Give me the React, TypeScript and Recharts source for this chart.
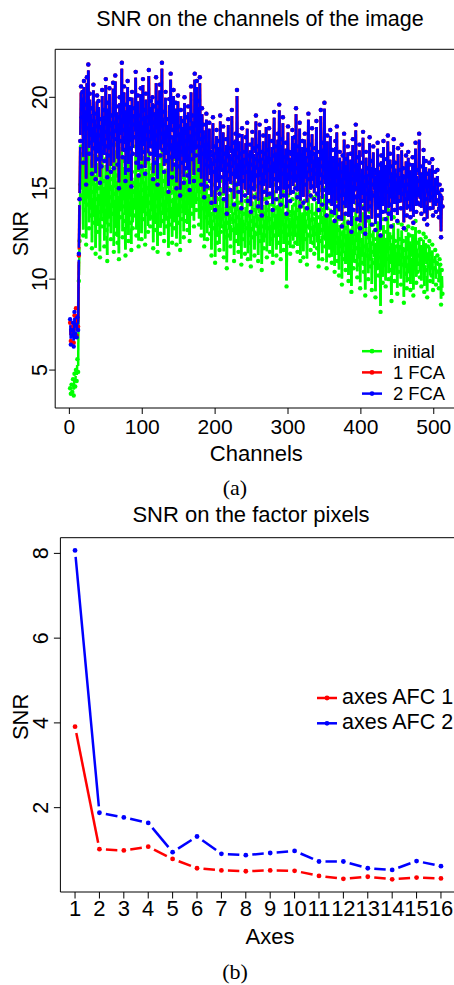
import React from 'react';
import { LineChart, Line, XAxis, YAxis, Legend } from 'recharts';

const FONT = '"Liberation Sans", Arial, sans-serif';
const SERIF = '"Liberation Serif", "Times New Roman", serif';

const GREEN = '#00ff00';
const RED = '#ff0000';
const BLUE = '#0000ff';

// ---------- (a) SNR on the channels ----------
const CHANNELS = Array.from({ length: 512 }, (_, i) => i + 1);
const X_TICKS_TOP = [0, 100, 200, 300, 400, 500];
const Y_TICKS_TOP = [5, 10, 15, 20];

const INITIAL = [
  4.0, 3.7, 4.2, 3.8, 4.5, 3.6, 4.8, 4.1, 5.0, 4.4, 5.6, 4.9, 9.9, 12.1, 15.2, 17.3,
  14.6, 16.8, 12.4, 17.9, 13.8, 15.9, 11.9, 16.4, 14.1, 18.0, 12.8, 15.3, 13.5, 16.9, 11.7, 14.8,
  17.2, 13.1, 15.6, 11.4, 14.4, 16.7, 12.6, 15.0, 13.7, 11.2, 16.1, 12.9, 17.5, 13.3, 15.4, 11.8,
  14.2, 16.6, 12.7, 11.0, 15.8, 13.0, 17.1, 14.5, 12.2, 15.5, 13.6, 16.9, 11.5, 14.7, 17.4, 12.5,
  15.7, 12.0, 14.9, 11.1, 16.3, 13.4, 15.1, 17.6, 12.3, 14.0, 16.5, 13.2, 11.3, 15.6, 14.3, 17.0,
  12.1, 14.6, 16.2, 13.1, 11.6, 15.9, 12.8, 14.8, 15.3, 13.5, 17.3, 12.4, 14.1, 16.0, 11.8, 15.2,
  13.9, 16.8, 12.2, 14.9, 17.1, 13.3, 15.7, 11.9, 16.4, 13.6, 15.0, 12.6, 17.4, 14.2, 12.9, 16.1,
  13.4, 16.3, 11.7, 14.6, 15.8, 12.7, 17.0, 14.0, 11.5, 15.5, 14.4, 16.7, 12.5, 14.1, 17.5, 13.2,
  15.4, 12.1, 14.7, 16.4, 12.9, 15.1, 13.8, 11.4, 16.2, 13.0, 17.2, 14.3, 12.0, 14.8, 16.6, 12.8,
  15.0, 16.1, 11.9, 14.5, 16.8, 13.1, 15.2, 11.6, 15.9, 14.0, 13.3, 15.6, 12.3, 16.5, 14.6, 13.2,
  15.8, 12.7, 16.4, 14.2, 12.1, 15.3, 17.3, 13.6, 16.0, 14.7, 12.9, 17.6, 15.1, 13.8, 17.0, 14.4,
  16.2, 13.0, 17.4, 14.8, 12.4, 15.9, 13.9, 15.4, 11.8, 14.6, 13.4, 15.7, 12.2, 14.3, 13.1, 15.0,
  12.5, 13.9, 11.3, 13.6, 15.2, 12.8, 14.1, 10.9, 13.4, 14.9, 12.0, 14.4, 13.0, 11.6, 15.4, 12.6,
  13.8, 12.9, 14.7, 11.2, 13.5, 12.3, 14.3, 10.6, 13.1, 15.0, 12.4, 13.9, 11.8, 13.3, 15.3, 12.7,
  14.0, 11.0, 13.2, 14.6, 12.1, 15.7, 13.4, 11.5, 14.2, 12.6, 13.7, 10.8, 14.8, 12.2, 13.6, 13.0,
  11.4, 14.3, 12.8, 14.9, 11.1, 13.5, 12.0, 14.1, 10.7, 13.2, 14.6, 12.3, 13.8, 11.3, 13.0, 15.1,
  12.5, 13.9, 11.0, 13.3, 14.8, 12.1, 13.7, 10.5, 12.9, 14.4, 11.7, 13.6, 12.4, 14.9, 11.2, 13.8,
  12.8, 14.5, 11.5, 13.3, 12.2, 14.1, 10.9, 13.5, 15.2, 12.4, 13.9, 11.3, 12.9, 14.4, 12.0, 15.0,
  13.1, 11.1, 14.2, 12.6, 14.8, 11.6, 13.4, 12.3, 14.0, 9.6, 12.9, 14.6, 12.0, 13.7, 11.4, 13.5,
  12.5, 14.4, 11.8, 13.2, 14.1, 12.0, 15.1, 12.9, 11.5, 13.8, 12.6, 14.7, 11.0, 13.4, 12.3, 14.0,
  11.2, 13.1, 14.3, 12.2, 13.6, 10.8, 12.9, 14.8, 12.4, 13.7, 11.6, 12.8, 14.5, 12.0, 13.3, 11.4,
  13.6, 12.5, 14.6, 11.7, 13.0, 10.7, 13.4, 12.1, 14.9, 12.7, 11.1, 13.8, 12.3, 15.0, 11.8, 13.1,
  10.6, 13.9, 11.9, 12.8, 11.3, 14.2, 12.4, 10.9, 13.5, 11.6, 12.9, 10.4, 13.7, 12.0, 14.3, 11.0,
  12.7, 10.2, 13.3, 11.4, 12.5, 9.7, 13.0, 11.1, 14.0, 11.9, 10.5, 12.8, 11.2, 13.6, 9.9, 12.2,
  11.5, 13.1, 9.3, 12.0, 13.8, 10.6, 12.5, 11.0, 14.2, 11.7, 10.1, 12.9, 10.8, 13.4, 9.5, 12.1,
  10.9, 12.6, 14.0, 10.4, 11.8, 9.1, 13.2, 11.3, 12.3, 10.0, 11.6, 13.7, 10.7, 12.4, 9.4, 11.5,
  13.0, 10.9, 12.2, 9.0, 11.9, 10.6, 13.5, 10.2, 12.7, 11.2, 8.2, 12.8, 11.4, 9.8, 13.3, 10.8,
  12.0, 9.6, 12.6, 11.1, 13.8, 10.0, 11.7, 12.9, 10.5, 8.8, 12.3, 11.0, 13.4, 9.9, 12.1, 10.7,
  11.8, 9.2, 13.1, 10.4, 12.2, 11.3, 9.7, 13.0, 10.8, 12.1, 8.7, 11.6, 10.3, 12.7, 9.5, 11.2,
  12.9, 10.0, 12.4, 9.4, 11.5, 10.9, 12.8, 9.1, 11.9, 10.6, 13.2, 9.8, 12.0, 10.4, 11.3, 12.6,
  10.1, 12.2, 9.6, 11.7, 10.8, 12.5, 9.3, 11.1, 12.3, 10.5, 9.0, 11.8, 10.7, 12.1, 9.9, 11.4,
  10.2, 11.9, 9.4, 11.0, 10.6, 11.6, 9.7, 10.9, 11.3, 10.4, 9.5, 11.1, 10.8, 8.6, 10.5, 9.2,
];

// 1 FCA sits under 2 FCA almost everywhere; it only shows in the first channels
const FCA1 = [
  7.6, 6.6, 7.0, 7.1, 7.4, 6.5, 8.0, 7.3, 8.4, 6.9, 7.7, 7.4, 11.3, 14.4, 17.6, 20.6,
  18.9, 20.3, 16.4, 20.9, 17.8, 19.6, 15.2, 21.1, 18.3, 21.8, 16.9, 20.2, 17.5, 19.4, 15.8, 18.7,
  20.7, 17.2, 19.1, 15.5, 18.4, 20.1, 16.6, 19.8, 17.9, 15.3, 18.8, 16.2, 20.4, 17.0, 19.3, 16.5,
  18.1, 21.0, 17.3, 15.6, 19.7, 16.8, 20.5, 18.0, 15.9, 19.0, 17.4, 20.8, 16.1, 18.6, 21.2, 17.7,
  19.5, 16.3, 18.9, 15.0, 20.0, 17.6, 19.2, 21.9, 16.7, 18.2, 20.6, 17.1, 15.4, 19.6, 18.4, 20.9,
  16.0, 18.7, 19.9, 17.2, 15.1, 20.3, 16.9, 18.5, 19.4, 17.8, 21.4, 16.4, 18.0, 20.1, 15.7, 19.0,
  17.5, 20.5, 16.2, 18.8, 21.0, 17.0, 19.3, 15.8, 20.2, 17.7, 18.9, 16.6, 21.5, 18.1, 16.9, 19.8,
  17.3, 20.0, 15.5, 18.6, 19.5, 16.4, 21.1, 17.9, 15.2, 19.7, 18.3, 20.7, 16.8, 18.0, 21.9, 17.1,
  19.2, 15.9, 18.5, 20.3, 16.5, 18.8, 17.4, 14.8, 19.9, 16.7, 21.3, 17.8, 15.6, 18.2, 20.4, 16.3,
  18.6, 19.7, 15.0, 17.9, 20.1, 16.2, 18.4, 14.6, 19.3, 17.0, 16.4, 18.7, 15.3, 20.0, 17.6, 16.1,
  18.9, 15.7, 19.5, 17.2, 14.9, 18.3, 20.6, 16.6, 19.0, 17.5, 15.4, 21.3, 18.0, 16.8, 20.9, 17.3,
  19.8, 16.0, 21.1, 17.7, 15.2, 19.4, 16.9, 18.5, 14.5, 17.8, 16.3, 19.1, 15.1, 17.4, 16.2, 18.6,
  15.4, 17.0, 14.2, 16.8, 18.9, 15.9, 17.3, 13.8, 16.5, 18.2, 15.0, 17.6, 16.1, 14.7, 19.0, 15.6,
  17.1, 16.0, 18.4, 14.4, 16.9, 15.3, 17.7, 13.6, 16.3, 18.8, 15.5, 17.2, 14.9, 16.6, 19.3, 15.8,
  17.5, 14.1, 16.4, 18.0, 15.2, 20.4, 16.7, 14.8, 17.9, 15.6, 16.9, 13.9, 18.3, 15.4, 17.0, 16.2,
  14.6, 17.8, 15.9, 18.6, 14.3, 16.8, 15.1, 17.4, 13.7, 16.3, 18.1, 15.0, 17.2, 14.5, 16.6, 19.0,
  15.7, 17.3, 14.0, 16.5, 18.5, 15.3, 17.0, 13.5, 16.2, 17.9, 14.8, 16.9, 15.4, 18.7, 14.2, 17.1,
  16.0, 18.3, 14.7, 16.6, 15.2, 17.6, 13.8, 16.8, 19.2, 15.5, 17.3, 14.4, 16.1, 18.0, 15.0, 19.6,
  16.4, 14.1, 17.7, 15.8, 18.9, 14.6, 16.7, 15.3, 17.5, 13.6, 16.2, 18.4, 15.1, 17.0, 14.3, 16.9,
  15.6, 18.2, 14.8, 16.4, 17.8, 15.0, 19.4, 16.1, 14.5, 17.3, 15.7, 18.6, 14.0, 16.8, 15.4, 17.6,
  14.2, 16.5, 18.0, 15.2, 17.1, 13.9, 16.3, 19.1, 15.5, 17.4, 14.6, 16.0, 18.3, 15.1, 16.9, 14.4,
  17.2, 15.8, 18.7, 14.7, 16.6, 13.8, 17.0, 15.3, 19.3, 16.2, 14.1, 17.5, 15.6, 19.7, 14.9, 16.7,
  13.5, 17.9, 15.0, 16.4, 14.3, 18.2, 15.7, 13.7, 17.1, 14.8, 16.5, 13.2, 17.6, 15.2, 18.4, 14.0,
  16.3, 13.4, 17.0, 14.6, 15.9, 12.9, 16.8, 14.2, 18.0, 15.1, 13.6, 16.6, 14.4, 17.3, 13.1, 15.8,
  14.9, 16.9, 12.6, 15.5, 17.7, 13.8, 16.2, 14.5, 18.5, 15.0, 13.3, 16.7, 14.1, 17.4, 12.8, 15.7,
  14.3, 16.4, 18.1, 13.9, 15.6, 12.5, 17.0, 14.7, 16.1, 13.4, 15.3, 17.8, 14.0, 16.5, 13.0, 15.2,
  17.3, 14.6, 16.0, 12.7, 15.8, 14.2, 17.5, 13.5, 16.3, 14.9, 12.4, 16.8, 15.1, 13.7, 17.6, 14.4,
  15.9, 13.3, 16.6, 14.8, 17.9, 13.6, 15.4, 16.9, 14.1, 12.9, 16.2, 15.0, 17.7, 13.8, 16.4, 14.5,
  15.7, 13.2, 17.2, 14.3, 16.0, 15.3, 13.9, 17.4, 14.7, 16.1, 12.8, 15.6, 14.4, 16.8, 13.5, 15.2,
  17.0, 14.0, 16.3, 13.4, 15.5, 14.8, 16.7, 13.1, 15.9, 14.6, 17.5, 13.7, 16.0, 14.2, 15.4, 18.0,
  14.1, 16.2, 13.6, 15.7, 14.9, 17.1, 13.3, 15.1, 16.5, 14.4, 13.0, 15.8, 14.7, 16.4, 13.9, 15.3,
  14.5, 16.6, 13.5, 15.0, 14.2, 15.9, 13.7, 14.8, 16.0, 14.3, 13.4, 15.2, 14.6, 12.3, 14.9, 14.0,
];

const FCA2 = [
  7.8, 6.4, 7.2, 6.9, 7.6, 6.3, 8.2, 7.0, 7.5, 6.8, 7.9, 7.2, 11.4, 14.4, 17.6, 20.6,
  18.9, 20.3, 16.4, 20.9, 17.8, 19.6, 15.2, 21.1, 18.3, 21.8, 16.9, 20.2, 17.5, 19.4, 15.8, 18.7,
  20.7, 17.2, 19.1, 15.5, 18.4, 20.1, 16.6, 19.8, 17.9, 15.3, 18.8, 16.2, 20.4, 17.0, 19.3, 16.5,
  18.1, 21.0, 17.3, 15.6, 19.7, 16.8, 20.5, 18.0, 15.9, 19.0, 17.4, 20.8, 16.1, 18.6, 21.2, 17.7,
  19.5, 16.3, 18.9, 15.0, 20.0, 17.6, 19.2, 21.9, 16.7, 18.2, 20.6, 17.1, 15.4, 19.6, 18.4, 20.9,
  16.0, 18.7, 19.9, 17.2, 15.1, 20.3, 16.9, 18.5, 19.4, 17.8, 21.4, 16.4, 18.0, 20.1, 15.7, 19.0,
  17.5, 20.5, 16.2, 18.8, 21.0, 17.0, 19.3, 15.8, 20.2, 17.7, 18.9, 16.6, 21.5, 18.1, 16.9, 19.8,
  17.3, 20.0, 15.5, 18.6, 19.5, 16.4, 21.1, 17.9, 15.2, 19.7, 18.3, 20.7, 16.8, 18.0, 21.9, 17.1,
  19.2, 15.9, 18.5, 20.3, 16.5, 18.8, 17.4, 14.8, 19.9, 16.7, 21.3, 17.8, 15.6, 18.2, 20.4, 16.3,
  18.6, 19.7, 15.0, 17.9, 20.1, 16.2, 18.4, 14.6, 19.3, 17.0, 16.4, 18.7, 15.3, 20.0, 17.6, 16.1,
  18.9, 15.7, 19.5, 17.2, 14.9, 18.3, 20.6, 16.6, 19.0, 17.5, 15.4, 21.3, 18.0, 16.8, 20.9, 17.3,
  19.8, 16.0, 21.1, 17.7, 15.2, 19.4, 16.9, 18.5, 14.5, 17.8, 16.3, 19.1, 15.1, 17.4, 16.2, 18.6,
  15.4, 17.0, 14.2, 16.8, 18.9, 15.9, 17.3, 13.8, 16.5, 18.2, 15.0, 17.6, 16.1, 14.7, 19.0, 15.6,
  17.1, 16.0, 18.4, 14.4, 16.9, 15.3, 17.7, 13.6, 16.3, 18.8, 15.5, 17.2, 14.9, 16.6, 19.3, 15.8,
  17.5, 14.1, 16.4, 18.0, 15.2, 20.4, 16.7, 14.8, 17.9, 15.6, 16.9, 13.9, 18.3, 15.4, 17.0, 16.2,
  14.6, 17.8, 15.9, 18.6, 14.3, 16.8, 15.1, 17.4, 13.7, 16.3, 18.1, 15.0, 17.2, 14.5, 16.6, 19.0,
  15.7, 17.3, 14.0, 16.5, 18.5, 15.3, 17.0, 13.5, 16.2, 17.9, 14.8, 16.9, 15.4, 18.7, 14.2, 17.1,
  16.0, 18.3, 14.7, 16.6, 15.2, 17.6, 13.8, 16.8, 19.2, 15.5, 17.3, 14.4, 16.1, 18.0, 15.0, 19.6,
  16.4, 14.1, 17.7, 15.8, 18.9, 14.6, 16.7, 15.3, 17.5, 13.6, 16.2, 18.4, 15.1, 17.0, 14.3, 16.9,
  15.6, 18.2, 14.8, 16.4, 17.8, 15.0, 19.4, 16.1, 14.5, 17.3, 15.7, 18.6, 14.0, 16.8, 15.4, 17.6,
  14.2, 16.5, 18.0, 15.2, 17.1, 13.9, 16.3, 19.1, 15.5, 17.4, 14.6, 16.0, 18.3, 15.1, 16.9, 14.4,
  17.2, 15.8, 18.7, 14.7, 16.6, 13.8, 17.0, 15.3, 19.3, 16.2, 14.1, 17.5, 15.6, 19.7, 14.9, 16.7,
  13.5, 17.9, 15.0, 16.4, 14.3, 18.2, 15.7, 13.7, 17.1, 14.8, 16.5, 13.2, 17.6, 15.2, 18.4, 14.0,
  16.3, 13.4, 17.0, 14.6, 15.9, 12.9, 16.8, 14.2, 18.0, 15.1, 13.6, 16.6, 14.4, 17.3, 13.1, 15.8,
  14.9, 16.9, 12.6, 15.5, 17.7, 13.8, 16.2, 14.5, 18.5, 15.0, 13.3, 16.7, 14.1, 17.4, 12.8, 15.7,
  14.3, 16.4, 18.1, 13.9, 15.6, 12.5, 17.0, 14.7, 16.1, 13.4, 15.3, 17.8, 14.0, 16.5, 13.0, 15.2,
  17.3, 14.6, 16.0, 12.7, 15.8, 14.2, 17.5, 13.5, 16.3, 14.9, 12.4, 16.8, 15.1, 13.7, 17.6, 14.4,
  15.9, 13.3, 16.6, 14.8, 17.9, 13.6, 15.4, 16.9, 14.1, 12.9, 16.2, 15.0, 17.7, 13.8, 16.4, 14.5,
  15.7, 13.2, 17.2, 14.3, 16.0, 15.3, 13.9, 17.4, 14.7, 16.1, 12.8, 15.6, 14.4, 16.8, 13.5, 15.2,
  17.0, 14.0, 16.3, 13.4, 15.5, 14.8, 16.7, 13.1, 15.9, 14.6, 17.5, 13.7, 16.0, 14.2, 15.4, 18.0,
  14.1, 16.2, 13.6, 15.7, 14.9, 17.1, 13.3, 15.1, 16.5, 14.4, 13.0, 15.8, 14.7, 16.4, 13.9, 15.3,
  14.5, 16.6, 13.5, 15.0, 14.2, 15.9, 13.7, 14.8, 16.0, 14.3, 13.4, 15.2, 14.6, 12.3, 14.9, 14.0,
];

// ---------- (b) SNR on the factor pixels ----------
const AXES = [1, 2, 3, 4, 5, 6, 7, 8, 9, 10, 11, 12, 13, 14, 15, 16];
const AFC1 = [3.91, 1.02, 0.99, 1.08, 0.79, 0.57, 0.52, 0.5, 0.52, 0.51, 0.39, 0.32, 0.37, 0.31, 0.35, 0.33];
const AFC2 = [8.07, 1.88, 1.77, 1.64, 0.95, 1.32, 0.91, 0.88, 0.93, 0.98, 0.73, 0.73, 0.57, 0.53, 0.74, 0.62];
const Y_TICKS_BOTTOM = [2, 4, 6, 8];

const topData = CHANNELS.map((ch, i) => ({ ch, initial: INITIAL[i], fca1: FCA1[i], fca2: FCA2[i] }));
const bottomData = AXES.map((ax, i) => ({ ax, afc1: AFC1[i], afc2: AFC2[i] }));

const TOP_LEGEND = [
  { name: 'initial', color: GREEN },
  { name: '1 FCA', color: RED },
  { name: '2 FCA', color: BLUE },
];
const BOTTOM_LEGEND = [
  { name: 'axes AFC 1', color: RED },
  { name: 'axes AFC 2', color: BLUE },
];

// R type="b": point, then a line to the previous point that stops short of both points
function gapDot(color: string, r: number, gap: number, width: number) {
  let prev: { x: number; y: number } | null = null;
  return (props: any) => {
    const { cx, cy, index } = props;
    if (cx == null || cy == null) return <g key={`e-${index}`} />;
    let p: { x: number; y: number } | null = null;
    if (index > 0) {
      const pts = props.points;
      p = pts && pts[index - 1] ? { x: pts[index - 1].x, y: pts[index - 1].y } : prev;
    }
    prev = { x: cx, y: cy };
    let seg = null;
    if (p) {
      const dx = cx - p.x;
      const dy = cy - p.y;
      const d = Math.hypot(dx, dy);
      if (d > 2 * gap) {
        const ux = dx / d;
        const uy = dy / d;
        seg = (
          <line x1={p.x + ux * gap} y1={p.y + uy * gap} x2={cx - ux * gap} y2={cy - uy * gap}
            stroke={color} strokeWidth={width} />
        );
      }
    }
    return (
      <g key={`d-${index}`}>
        {seg}
        <circle cx={cx} cy={cy} r={r} fill={color} />
      </g>
    );
  };
}

const dotInitial = gapDot(GREEN, 2.2, 6, 2.5);
const dotFca1 = gapDot(RED, 2.2, 6, 2.8);
const dotFca2 = gapDot(BLUE, 2.2, 6, 2.4);
const dotAfc1 = gapDot(RED, 2.4, 6.5, 2.5);
const dotAfc2 = gapDot(BLUE, 2.4, 6.5, 2.5);

const rotTick = (fontSize: number) => (props: any) => {
  const { x, y, payload } = props;
  return (
    <text x={x} y={y} transform={`rotate(-90, ${x}, ${y})`} textAnchor="middle" fontSize={fontSize} fill="#000">
      {payload.value}
    </text>
  );
};

const yTitle = (dy: number, fontSize: number) => (props: any) => {
  const vb = props.viewBox || {};
  const cy = vb.y + vb.height / 2 + dy;
  return (
    <text x={28} y={cy} transform={`rotate(-90, 28, ${cy})`} textAnchor="middle" fontSize={fontSize} fill="#000">
      SNR
    </text>
  );
};

const xTitle = (text: string, cx: number, dy: number, fontSize: number) => (props: any) => {
  const vb = props.viewBox || {};
  return (
    <text x={cx} y={vb.y + dy} textAnchor="middle" fontSize={fontSize} fill="#000">
      {text}
    </text>
  );
};

const legendContent = (items: { name: string; color: string }[], rowH: number, y0: number, textX: number, textDy: number, fontSize: number) => () => (
  <svg width={150} height={y0 + rowH * items.length + 10} style={{ overflow: 'visible', display: 'block' }}>
    {items.map((it, i) => {
      const y = y0 + i * rowH;
      return (
        <g key={it.name}>
          <line x1={0} y1={y} x2={20} y2={y} stroke={it.color} strokeWidth={2.5} />
          <circle cx={10} cy={y} r={2.4} fill={it.color} />
          <text x={textX} y={y + textDy} fontSize={fontSize} fill="#000" fontFamily={FONT}>{it.name}</text>
        </g>
      );
    })}
  </svg>
);

export default function App() {
  return (
    <div style={{ position: 'absolute', left: 0, top: 0, width: 454, height: 985, overflow: 'hidden', background: '#fff', fontFamily: FONT }}>
      <div style={{ position: 'absolute', left: 0, top: 0 }}>
        <LineChart width={462} height={470} data={topData} margin={{ top: 49.3, right: 4.6, bottom: 0, left: 0 }}>
          <XAxis dataKey="ch" type="number" domain={[-19.44, 532.44]} allowDataOverflow ticks={X_TICKS_TOP} interval={0}
            height={62} tickSize={6} tickMargin={5} stroke="#000" tick={{ fontSize: 21, fill: '#000' }}
            label={{ content: xTitle('Channels', 256.3, 53, 22) }} />
          <YAxis type="number" domain={[2.914, 22.64]} allowDataOverflow ticks={Y_TICKS_TOP} interval={0}
            width={55.2} tickSize={6} tickMargin={2.2} stroke="#000" tick={rotTick(21.5)}
            label={{ content: yTitle(5, 21.5) }} />
          <Line dataKey="initial" stroke="none" dot={dotInitial} activeDot={false} isAnimationActive={false} />
          <Line dataKey="fca1" stroke="none" dot={dotFca1} activeDot={false} isAnimationActive={false} />
          <Line dataKey="fca2" stroke="none" dot={dotFca2} activeDot={false} isAnimationActive={false} />
          <Legend layout="vertical" align="center" verticalAlign="middle"
            wrapperStyle={{ left: 361.7, top: 330, width: 110, height: 80 }}
            content={legendContent(TOP_LEGEND, 21.2, 21.2, 31, 6.6, 18.4)} />
        </LineChart>
      </div>

      <div style={{ position: 'absolute', left: 0, top: 500 }}>
        <LineChart width={462} height={485} data={bottomData} margin={{ top: 37.7, right: 6.4, bottom: 0, left: 0 }}>
          <XAxis dataKey="ax" type="number" domain={[0.4, 16.6]} allowDataOverflow ticks={AXES} interval={0}
            height={93} tickSize={6.5} tickMargin={2} stroke="#000" tick={{ fontSize: 22, fill: '#000' }}
            label={{ content: xTitle('Axes', 270, 52, 22) }} />
          <YAxis type="number" domain={[0.01, 8.37]} allowDataOverflow ticks={Y_TICKS_BOTTOM} interval={0}
            width={60.4} tickSize={6.5} tickMargin={5.9} stroke="#000" tick={rotTick(21.5)}
            label={{ content: yTitle(2, 22) }} />
          <Line dataKey="afc1" stroke="none" dot={dotAfc1} activeDot={false} isAnimationActive={false} />
          <Line dataKey="afc2" stroke="none" dot={dotAfc2} activeDot={false} isAnimationActive={false} />
          <Legend layout="vertical" align="center" verticalAlign="middle"
            wrapperStyle={{ left: 316.7, top: 180, width: 150, height: 70 }}
            content={legendContent(BOTTOM_LEGEND, 25.3, 18, 25, 5.5, 21.5)} />
        </LineChart>
      </div>

      <svg width={454} height={985} style={{ position: 'absolute', left: 0, top: 0, pointerEvents: 'none' }}>
        {/* plot frame, top edge */}
        <line x1={55.2} y1={49.3} x2={454} y2={49.3} stroke="#000" strokeWidth={1} />
        <line x1={60.4} y1={537.7} x2={454} y2={537.7} stroke="#000" strokeWidth={1} />
        <text x={260} y={26} textAnchor="middle" fontSize={21.5} fill="#000" fontFamily={FONT}>SNR on the channels of the image</text>
        <text x={251} y={521.5} textAnchor="middle" fontSize={22} fill="#000" fontFamily={FONT}>SNR on the factor pixels</text>
        <text x={235} y={495} textAnchor="middle" fontSize={22} fill="#000" fontFamily={SERIF}>(a)</text>
        <text x={235} y={979} textAnchor="middle" fontSize={22} fill="#000" fontFamily={SERIF}>(b)</text>
      </svg>
    </div>
  );
}
